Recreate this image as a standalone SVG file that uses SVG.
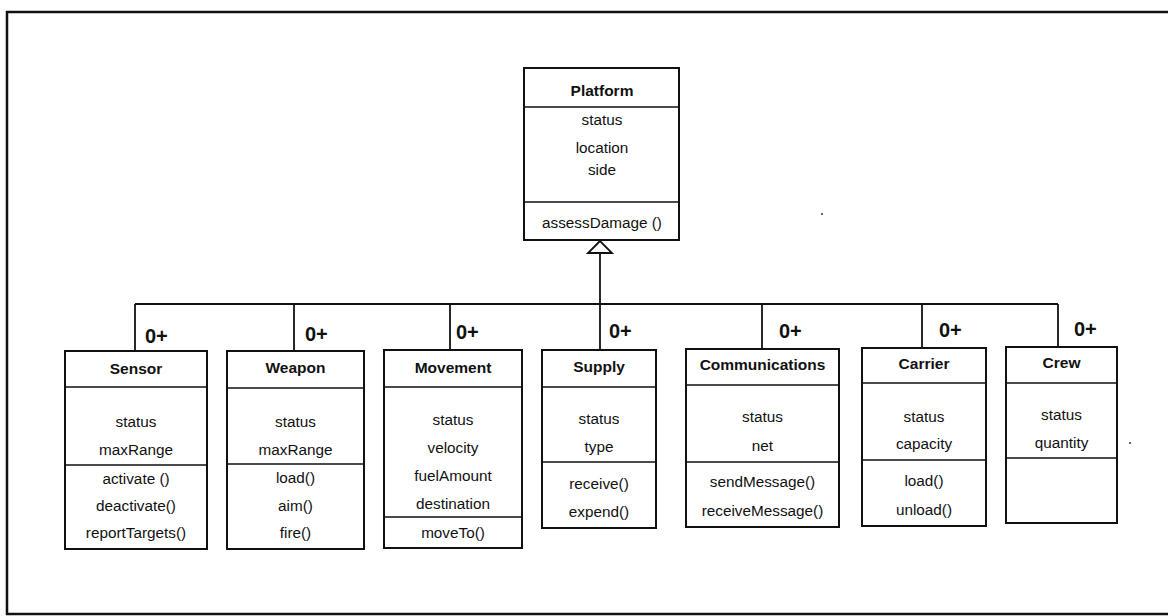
<svg xmlns="http://www.w3.org/2000/svg" width="1168" height="616" viewBox="0 0 1168 616">
<style>
  .box{fill:#fff;stroke:#111;stroke-width:2}
  .div{stroke:#111;stroke-width:1.6;fill:none}
  .t{font-family:"Liberation Sans",Arial,sans-serif;font-size:15.3px;fill:#111;text-anchor:middle}
  .h{font-family:"Liberation Sans",Arial,sans-serif;font-size:15.5px;font-weight:bold;fill:#111;text-anchor:middle}
  .m{font-family:"Liberation Sans",Arial,sans-serif;font-size:20px;font-weight:bold;fill:#111}
  .ln{stroke:#111;stroke-width:1.8;fill:none}
</style>
<rect width="1168" height="616" fill="#fff"/>
<path d="M1172,12 H7 V614 H1172" fill="none" stroke="#111" stroke-width="2.5"/>
<circle cx="822" cy="214" r="1" fill="#333"/>
<circle cx="1130" cy="443" r="1" fill="#333"/>

<g id="connectors">
  <path class="ln" d="M135,304 H1058"/>
  <path class="ln" d="M600,253 V350"/>
  <path class="ln" d="M135,304 V351"/>
  <path class="ln" d="M294,304 V351"/>
  <path class="ln" d="M450,304 V350"/>
  <path class="ln" d="M762,304 V349"/>
  <path class="ln" d="M922,304 V348"/>
  <path class="ln" d="M1058,304 V347"/>
  <polygon points="600,241 588,253 612,253" fill="#fff" stroke="#111" stroke-width="1.8"/>
  <text class="m" x="145" y="343">0+</text>
  <text class="m" x="305" y="341">0+</text>
  <text class="m" x="456" y="339">0+</text>
  <text class="m" x="609" y="338">0+</text>
  <text class="m" x="779" y="338">0+</text>
  <text class="m" x="939" y="337">0+</text>
  <text class="m" x="1074" y="336">0+</text>
</g>

<g id="platform">
  <rect class="box" x="524" y="68" width="155" height="172"/>
  <path class="div" d="M524,107 H679 M524,202 H679"/>
  <text class="h" x="602" y="96">Platform</text>
  <text class="t" x="602" y="125">status</text>
  <text class="t" x="602" y="153">location</text>
  <text class="t" x="602" y="175">side</text>
  <text class="t" x="602" y="228">assessDamage ()</text>
</g>

<g id="sensor">
  <rect class="box" x="65" y="351" width="142" height="198"/>
  <path class="div" d="M65,387 H207 M65,465 H207"/>
  <text class="h" x="136" y="374">Sensor</text>
  <text class="t" x="136" y="427">status</text>
  <text class="t" x="136" y="455">maxRange</text>
  <text class="t" x="136" y="484">activate ()</text>
  <text class="t" x="136" y="511">deactivate()</text>
  <text class="t" x="136" y="538">reportTargets()</text>
</g>

<g id="weapon">
  <rect class="box" x="227" y="351" width="137" height="198"/>
  <path class="div" d="M227,388 H364 M227,464 H364"/>
  <text class="h" x="295.5" y="373">Weapon</text>
  <text class="t" x="295.5" y="427">status</text>
  <text class="t" x="295.5" y="455">maxRange</text>
  <text class="t" x="295.5" y="483">load()</text>
  <text class="t" x="295.5" y="511">aim()</text>
  <text class="t" x="295.5" y="538">fire()</text>
</g>

<g id="movement">
  <rect class="box" x="384" y="350" width="138" height="198"/>
  <path class="div" d="M384,387 H522 M384,517 H522"/>
  <text class="h" x="453" y="373">Movement</text>
  <text class="t" x="453" y="425">status</text>
  <text class="t" x="453" y="453">velocity</text>
  <text class="t" x="453" y="481">fuelAmount</text>
  <text class="t" x="453" y="509">destination</text>
  <text class="t" x="453" y="538">moveTo()</text>
</g>

<g id="supply">
  <rect class="box" x="542" y="350" width="114" height="178"/>
  <path class="div" d="M542,387 H656 M542,462 H656"/>
  <text class="h" x="599" y="372">Supply</text>
  <text class="t" x="599" y="424">status</text>
  <text class="t" x="599" y="452">type</text>
  <text class="t" x="599" y="489">receive()</text>
  <text class="t" x="599" y="517">expend()</text>
</g>

<g id="communications">
  <rect class="box" x="686" y="349" width="153" height="178"/>
  <path class="div" d="M686,385 H839 M686,462 H839"/>
  <text class="h" x="762.5" y="370">Communications</text>
  <text class="t" x="762.5" y="422">status</text>
  <text class="t" x="762.5" y="451">net</text>
  <text class="t" x="762.5" y="487">sendMessage()</text>
  <text class="t" x="762.5" y="516">receiveMessage()</text>
</g>

<g id="carrier">
  <rect class="box" x="862" y="348" width="124" height="178"/>
  <path class="div" d="M862,383 H986 M862,460 H986"/>
  <text class="h" x="924" y="369">Carrier</text>
  <text class="t" x="924" y="422">status</text>
  <text class="t" x="924" y="449">capacity</text>
  <text class="t" x="924" y="486">load()</text>
  <text class="t" x="924" y="515">unload()</text>
</g>

<g id="crew">
  <rect class="box" x="1006" y="347" width="111" height="176"/>
  <path class="div" d="M1006,383 H1117 M1006,458 H1117"/>
  <text class="h" x="1061.5" y="368">Crew</text>
  <text class="t" x="1061.5" y="420">status</text>
  <text class="t" x="1061.5" y="448">quantity</text>
</g>
</svg>
